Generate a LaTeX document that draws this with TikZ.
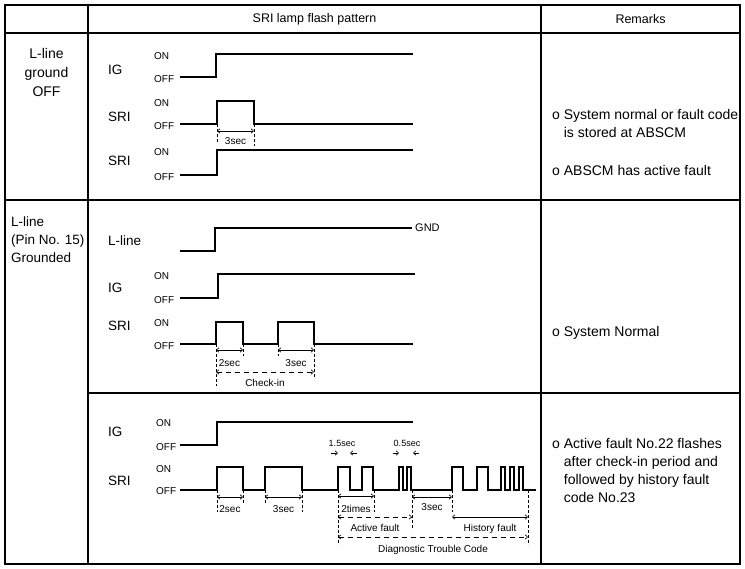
\documentclass[tikz,border=0pt]{standalone}
\usepackage{fontspec}
\setmainfont{Liberation Sans}
\usetikzlibrary{arrows.meta}

\begin{document}
\begin{tikzpicture}[x=1pt,y=-1pt,>={Straight Barb[length=2.5pt,width=4.5pt]},
frame/.style={line width=1.4pt},
wave/.style={line width=1.6pt},
dim/.style={<->,line width=.6pt},
dimd/.style={dim,dash pattern=on 5pt off 4pt},
ext/.style={densely dashed,line width=.6pt},
lab/.style={inner sep=0,anchor=west,text height=1.5ex,text depth=.25ex,font=\fontsize{13.5}{16}\selectfont},
lvl/.style={lab,font=\fontsize{10}{12}\selectfont},
note/.style={inner sep=0,text height=1.5ex,text depth=.25ex,font=\fontsize{10}{12}\selectfont},
mini/.style={note,font=\fontsize{9}{11}\selectfont},
head/.style={inner sep=0,font=\fontsize{12.5}{15}\selectfont},
cell/.style={inner sep=0,font=\fontsize{14}{19}\selectfont},
rem/.style={inner sep=0,anchor=west,align=left,font=\fontsize{14}{18}\selectfont}]
\useasboundingbox (0,0) rectangle (745,569);
\fill[white] (0,0) rectangle (745,569);
\draw[frame] (5,5) rectangle (740,564);
\draw[frame] (88,5) -- (88,564) (541,5) -- (541,564) (5,33) -- (740,33) (5,200) -- (740,200) (88,393) -- (740,393);
\node[head] (hdrP) at (314.5,19) {SRI lamp flash pattern};
\node[head] (hdrR) at (640.5,19) {Remarks};
\node[cell,align=center] (caseA) at (46.5,72) {L-line\\ground\\OFF};
\node[cell,align=left,anchor=west,font=\fontsize{13.5}{18}\selectfont] (caseB) at (11,240) {L-line\\(Pin No. 15)\\Grounded};
\node[lab] (igA) at (108,71) {IG};
\node[lvl] (onA) at (154,56) {ON};
\node[lvl] (offA) at (154,79) {OFF};
\draw[wave] (180,77) -- (216,77) -- (216,54) -- (413,54);
\node[lab] (sriA) at (108,118) {SRI};
\node[lvl] (onB) at (154,103) {ON};
\node[lvl] (offB) at (154,126) {OFF};
\draw[wave] (180,124) -- (217,124) -- (217,101) -- (254,101) -- (254,124) -- (413,124);
\draw[ext] (217,124) -- (217,142) (254,124) -- (254,146);
\coordinate (pA1) at (217,131);
\coordinate (pA2) at (254,131);
\draw[dim] (pA1) -- node[note,below=5pt] (secA) {3sec} (pA2);
\node[lab] (sriB) at (108,162) {SRI};
\node[lvl] (onC) at (154,152) {ON};
\node[lvl] (offC) at (154,177) {OFF};
\draw[wave] (180,175) -- (217,175) -- (217,150) -- (413,150);
\node[rem] (remA) at (552,123) {o System normal or fault code\\\phantom{o }is stored at ABSCM};
\node[rem] (remB) at (552,170) {o ABSCM has active fault};
\node[lab] (llB) at (108,242) {L-line};
\draw[wave] (180,251) -- (215,251) -- (215,228) -- (412,228);
\node[lvl,font=\fontsize{11}{13}\selectfont] (gnd) at (415,228) {GND};
\node[lab] (igB) at (108,289) {IG};
\node[lvl] (onD) at (154,276) {ON};
\node[lvl] (offD) at (154,300) {OFF};
\draw[wave] (180,298) -- (218,298) -- (218,274) -- (415,274);
\node[lab] (sriC) at (108,327) {SRI};
\node[lvl] (onE) at (154,323) {ON};
\node[lvl] (offE) at (154,346) {OFF};
\draw[wave] (180,344) -- (216,344) -- (216,322) -- (243,322) -- (243,344) -- (278,344) -- (278,322) -- (314,322) -- (314,344) -- (413,344);
\draw[ext] (216,344) -- (216,386) (243,344) -- (243,356) (278,344) -- (278,356) (314,344) -- (314,377);
\coordinate (pB1) at (216,350);
\coordinate (pB2) at (243,350);
\coordinate (pB3) at (278,350);
\coordinate (pB4) at (314,350);
\coordinate (pB5) at (216,372);
\coordinate (pB6) at (314,372);
\draw[dim] (pB1) -- node[note,below=8pt] (secB) {2sec} (pB2);
\draw[dim] (pB3) -- node[note,below=8pt] (secC) {3sec} (pB4);
\draw[dimd] (pB5) -- node[note,below=6pt] (chk) {Check-in} (pB6);
\node[rem] (remC) at (552,333) {o System Normal};
\node[lab] (igC) at (108,433) {IG};
\node[lvl] (onF) at (156,423) {ON};
\node[lvl] (offF) at (156,447) {OFF};
\draw[wave] (180,445) -- (217,445) -- (217,422) -- (413,422);
\node[lab] (sriD) at (108,482) {SRI};
\node[lvl] (onG) at (156,469) {ON};
\node[lvl] (offG) at (156,491) {OFF};
\draw[wave] (180,490) -- (217,490) -- (217,467) -- (243,467) -- (243,490) -- (265,490) -- (265,467) -- (302,467) -- (302,490)
 -- (338,490) -- (338,467) -- (350,467) -- (350,490) -- (362,490) -- (362,467) -- (373,467) -- (373,490)
 -- (399,490) -- (399,467) -- (403,467) -- (403,490) -- (407,490) -- (407,467) -- (411,467) -- (411,490)
 -- (452,490) -- (452,467) -- (463,467) -- (463,490) -- (477,490) -- (477,467) -- (488,467) -- (488,490)
 -- (501,490) -- (501,467) -- (505,467) -- (505,490) -- (510,490) -- (510,467) -- (514,467) -- (514,490)
 -- (519,490) -- (519,467) -- (523,467) -- (523,490) -- (536,490);
\draw[ext] (217,490) -- (217,512) (243,490) -- (243,503) (265,490) -- (265,503) (302,490) -- (302,512)
 (338,490) -- (338,545) (374,490) -- (374,512) (412,490) -- (412,530) (452,490) -- (452,512) (528,490) -- (528,545);
\coordinate (pC1) at (217,497);
\coordinate (pC2) at (243,497);
\coordinate (pC3) at (265,497);
\coordinate (pC4) at (302,497);
\coordinate (pC5) at (338,496);
\coordinate (pC6) at (374,496);
\coordinate (pC7) at (412,497);
\coordinate (pC8) at (452,497);
\coordinate (pC9) at (338,517);
\coordinate (pC10) at (412,517);
\coordinate (pC11) at (452,517);
\coordinate (pC12) at (528,517);
\coordinate (pC13) at (338,537);
\coordinate (pC14) at (528,537);
\draw[dim] (pC1) -- node[note,below=7pt] (secD) {2sec} (pC2);
\draw[dim] (pC3) -- node[note,below=7pt] (secE) {3sec} (pC4);
\draw[dim] (pC5) -- node[note,below=8pt] (twice) {2times} (pC6);
\draw[dim] (pC7) -- node[note,below=5pt] (secF) {3sec} (pC8);
\draw[dimd] (pC9) -- node[note,below=6pt] (act) {Active fault} (pC10);
\draw[dim] (pC11) -- node[note,below=6pt] (hist) {History fault} (pC12);
\draw[dimd] (pC13) -- node[note,below=7pt] (dtc) {Diagnostic Trouble Code} (pC14);
\node[mini] (lngA) at (342,443) {1.5sec};
\node[mini] (shtA) at (407,443) {0.5sec};
\coordinate (qA1) at (331,453);
\coordinate (qA2) at (338,453);
\coordinate (qA3) at (357,453);
\coordinate (qA4) at (350,453);
\coordinate (qB1) at (393,453);
\coordinate (qB2) at (399,453);
\coordinate (qB3) at (419,453);
\coordinate (qB4) at (413,453);
\draw[->,line width=.6pt] (qA1) -- (qA2);
\draw[->,line width=.6pt] (qA3) -- (qA4);
\draw[->,line width=.6pt] (qB1) -- (qB2);
\draw[->,line width=.6pt] (qB3) -- (qB4);
\node[rem] (remD) at (552,470.5) {o Active fault No.22 flashes\\\phantom{o }after check-in period and\\\phantom{o }followed by history fault\\\phantom{o }code No.23};
\end{tikzpicture}
\end{document}
